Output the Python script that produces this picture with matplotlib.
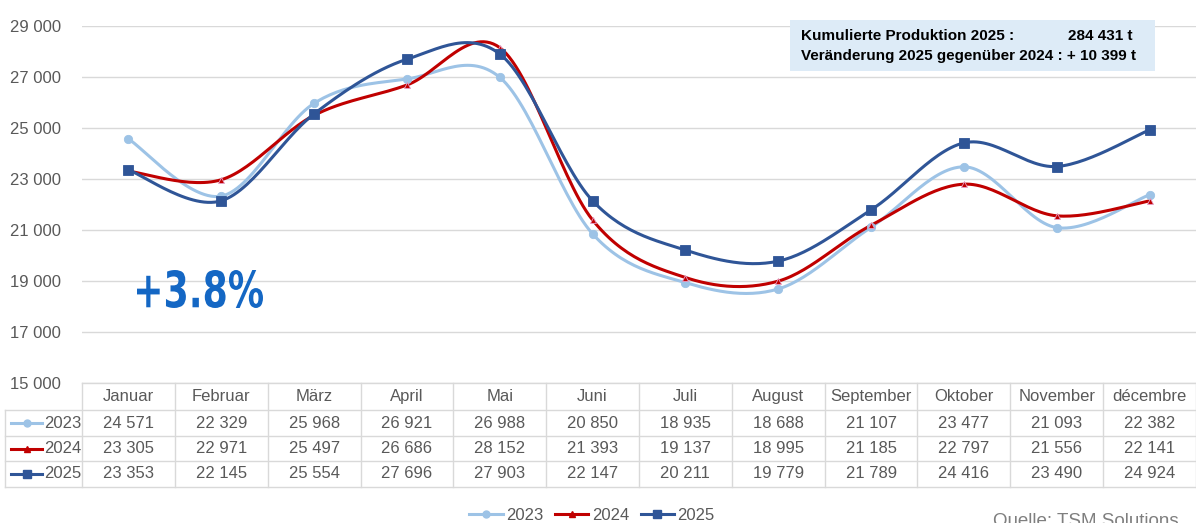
import numpy as np
import matplotlib.pyplot as plt
from matplotlib.lines import Line2D
from matplotlib.patches import Rectangle, PathPatch
from matplotlib.textpath import TextPath
from matplotlib.font_manager import FontProperties
from matplotlib.transforms import Affine2D

months = ["Januar", "Februar", "März", "April", "Mai", "Juni", "Juli",
          "August", "September", "Oktober", "November", "décembre"]
years = ["2023", "2024", "2025"]
v2023 = [24571, 22329, 25968, 26921, 26988, 20850, 18935, 18688, 21107, 23477, 21093, 22382]
v2024 = [23305, 22971, 25497, 26686, 28152, 21393, 19137, 18995, 21185, 22797, 21556, 22141]
v2025 = [23353, 22145, 25554, 27696, 27903, 22147, 20211, 19779, 21789, 24416, 23490, 24924]
series = [v2023, v2024, v2025]

colors = ["#9DC3E6", "#C00000", "#2F5597"]
markers = ["o", "^", "s"]
msizes = [6, 5, 6.5]
gray = "#595959"
gridc = "#D9D9D9"


def fmt(v):
    return f"{v:,}".replace(",", " ")


def smooth(ys, n=30):
    # Excel-style smoothed line (Catmull-Rom through the data points)
    pts = np.column_stack([np.arange(len(ys)), ys]).astype(float)
    out = []
    for i in range(len(pts) - 1):
        p0 = pts[max(i - 1, 0)]
        p1 = pts[i]
        p2 = pts[i + 1]
        p3 = pts[min(i + 2, len(pts) - 1)]
        c1 = p1 + (p2 - p0) / 6
        c2 = p2 - (p3 - p1) / 6
        t = np.linspace(0, 1, n)[:, None]
        b = ((1 - t) ** 3) * p1 + 3 * ((1 - t) ** 2) * t * c1 + 3 * (1 - t) * t ** 2 * c2 + t ** 3 * p2
        out.append(b if i == 0 else b[1:])
    out = np.vstack(out)
    return out[:, 0], out[:, 1]


W, H = 1196, 523
fig = plt.figure(figsize=(W / 100, H / 100), dpi=100)
plt.rcParams['font.family'] = ['Liberation Sans', 'DejaVu Sans']
fs = 12

left, right = 82, 1196
top, bottom = 26, 383
ax = fig.add_axes([left / W, 1 - bottom / H, (right - left) / W, (bottom - top) / H])
ax.set_xlim(-0.5, 11.5)
ax.set_ylim(15000, 29000)
ax.set_yticks(range(15000, 29001, 2000))
ax.set_yticklabels([fmt(v) for v in range(15000, 29001, 2000)], fontsize=fs, color=gray)
ax.tick_params(axis='y', length=0, pad=15)
ax.set_xticks([])
for s in ax.spines.values():
    s.set_visible(False)
ax.grid(axis='y', color=gridc, linewidth=1)
ax.set_axisbelow(True)

x = np.arange(len(months))
for vals, c, m, ms in zip(series, colors, markers, msizes):
    sx, sy = smooth(vals)
    ax.plot(sx, sy, color=c, linewidth=2.2, zorder=3)
    ax.plot(x, vals, linestyle='none', marker=m, markersize=ms, color=c, zorder=4,
            markeredgecolor=c if m != "^" else "#E6A0C8", markeredgewidth=0.6)

# big condensed "+3.8%" label
tp = TextPath((0, 0), "+3.8%", size=1, prop=FontProperties(family='DejaVu Sans', weight='bold'))
ext = tp.get_extents()
tr = (Affine2D().translate(-ext.x0, -ext.y0).scale(126 / ext.width, 38 / ext.height)
      .translate(137, H - 308).scale(1 / W, 1 / H) + fig.transFigure)
fig.patches.append(PathPatch(tp, transform=tr, facecolor="#1467C4", edgecolor="none"))

# info box
fig.patches.append(Rectangle((790 / W, 1 - 71 / H), 365 / W, 51 / H, transform=fig.transFigure,
                             facecolor='#DDEBF7', edgecolor='none', zorder=5))
fig.text(801 / W, 1 - 36 / H, "Kumulierte Produktion 2025 :", fontsize=11, fontweight='bold',
         ha='left', va='center', zorder=6)
fig.text(1133 / W, 1 - 36 / H, "284 431 t", fontsize=11, fontweight='bold',
         ha='right', va='center', zorder=6)
fig.text(801 / W, 1 - 56 / H, "Veränderung 2025 gegenüber 2024 : + 10 399 t", fontsize=11,
         fontweight='bold', ha='left', va='center', zorder=6)

# data table
tab = fig.add_axes([left / W, 1 - 487 / H, (right - left) / W, (487 - 383) / H])
tab.set_xlim(-0.5, 11.5)
tab.set_ylim(4, 0)
tab.axis('off')
colw = (right - left) / 12
xl = -0.5 - (left - 5) / colw
rows_y = [0, 1.04, 2.04, 3.0, 4.0]
for i, yy in enumerate(rows_y):
    x0 = -0.5 if i == 0 else xl
    tab.plot([x0, 11.5], [yy, yy], color=gridc, lw=1, clip_on=False)
for k in range(13):
    tab.plot([k - 0.5, k - 0.5], [0, 4], color=gridc, lw=1, clip_on=False)
tab.plot([xl, xl], [rows_y[1], 4], color=gridc, lw=1, clip_on=False)
for k, mname in enumerate(months):
    tab.text(k, 0.52, mname, ha='center', va='center', fontsize=fs, color=gray)
for r, (yr, vals, c, m, ms) in enumerate(zip(years, series, colors, markers, msizes)):
    yc = (rows_y[r + 1] + rows_y[r + 2]) / 2
    for k, v in enumerate(vals):
        tab.text(k, yc, fmt(v), ha='center', va='center', fontsize=fs, color=gray)
    tab.plot([xl + 0.07, xl + 0.40], [yc, yc], color=c, lw=2.2, clip_on=False)
    tab.plot([xl + 0.235], [yc], marker=m, color=c, markersize=ms - 1, clip_on=False)
    tab.text(xl + 0.42, yc, yr, ha='left', va='center', fontsize=fs, color=gray)

handles = [Line2D([], [], color=c, lw=2.2, marker=m, markersize=ms - 1)
           for c, m, ms in zip(colors, markers, msizes)]
leg = fig.legend(handles, years, loc='center', bbox_to_anchor=(592 / W, 1 - 515 / H), ncol=3,
                 frameon=False, fontsize=12, handlelength=2.0, handletextpad=0.2, columnspacing=0.7)
for t in leg.get_texts():
    t.set_color(gray)

fig.text(993 / W, 1 - 521 / H, "Quelle: TSM Solutions", fontsize=13.5, color="#7F7F7F",
         ha='left', va='center')

fig.savefig("out.png", dpi=100)
